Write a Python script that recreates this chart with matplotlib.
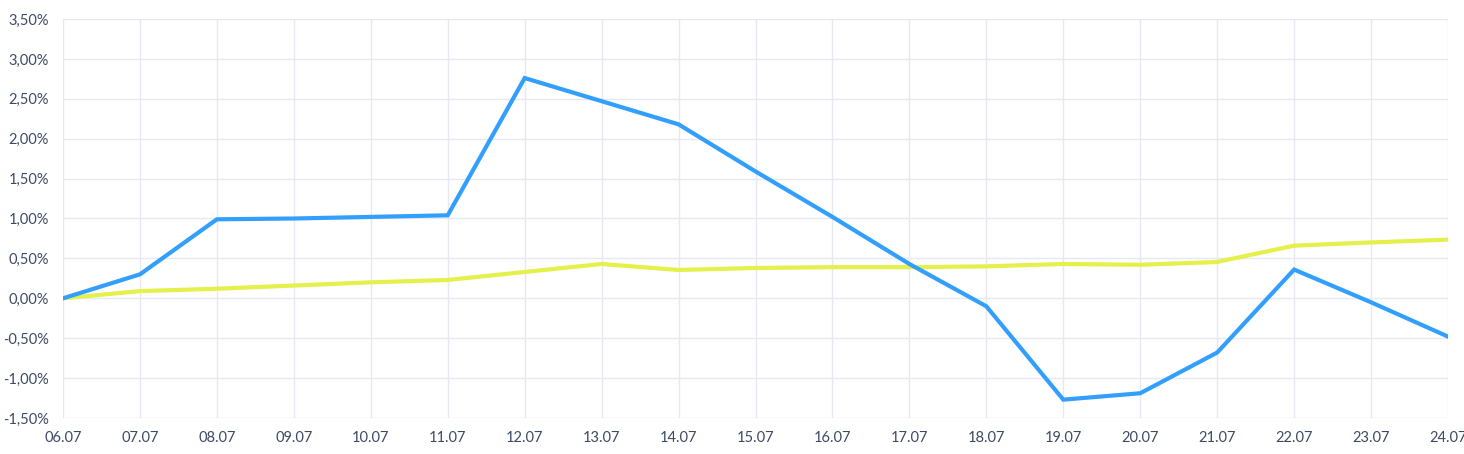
import matplotlib.pyplot as plt
from matplotlib.ticker import FuncFormatter


dates = [
    "06.07", "07.07", "08.07", "09.07", "10.07", "11.07", "12.07",
    "13.07", "14.07", "15.07", "16.07", "17.07", "18.07", "19.07",
    "20.07", "21.07", "22.07", "23.07", "24.07"
]

blue_values = [
    0.00, 0.30, 0.99, 1.00, 1.02, 1.04, 2.76,
    2.47, 2.18, 1.59, 1.02, 0.43, -0.10, -1.27,
    -1.19, -0.68, 0.36, -0.05, -0.48
]

yellow_values = [
    0.00, 0.09, 0.12, 0.16, 0.20, 0.23, 0.33,
    0.43, 0.355, 0.38, 0.39, 0.39, 0.40, 0.43,
    0.42, 0.455, 0.66, 0.70, 0.735
]

y_ticks = [-1.5, -1.0, -0.5, 0.0, 0.5, 1.0, 1.5, 2.0, 2.5, 3.0, 3.5]


def percent_label(value, pos):
    return f"{value:.2f}%".replace(".", ",")


plt.rcParams["font.family"] = ["Lato", "DejaVu Sans"]

fig = plt.figure(figsize=(14.64, 4.54), dpi=100)
ax = fig.add_axes([63 / 1464, 36 / 454, 1385 / 1464, 399 / 454])

x = list(range(len(dates)))

ax.plot(x, yellow_values, color="#e5f04a", linewidth=3, solid_joinstyle="miter", zorder=3)
ax.plot(x, blue_values, color="#339ffd", linewidth=3, solid_joinstyle="miter", zorder=4)

ax.set_xlim(0, len(dates) - 1)
ax.set_ylim(-1.5, 3.5)
ax.set_xticks(x)
ax.set_xticklabels(dates)
ax.set_yticks(y_ticks)
ax.yaxis.set_major_formatter(FuncFormatter(percent_label))

ax.grid(True, color="#e6e9f2", linewidth=1)
ax.set_axisbelow(True)

for spine in ax.spines.values():
    spine.set_visible(False)

ax.tick_params(axis="both", length=0, labelsize=10.5, colors="#3d4a63")
ax.tick_params(axis="x", pad=9)
ax.tick_params(axis="y", pad=10)

fig.savefig("out.png")
plt.close(fig)
